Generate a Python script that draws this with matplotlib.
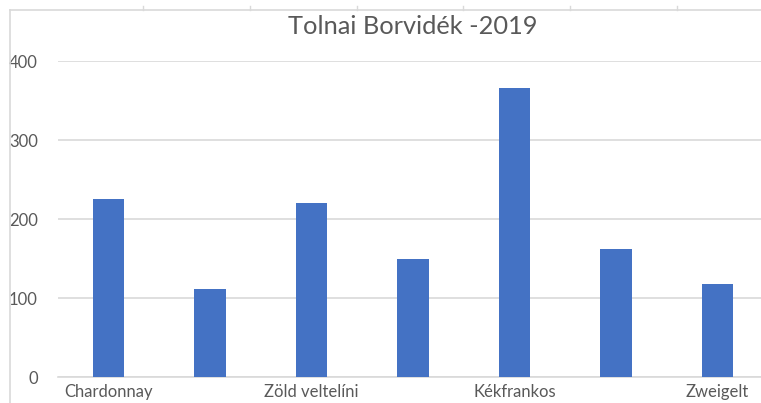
import matplotlib.pyplot as plt
from matplotlib.lines import Line2D

plt.rcParams['font.family'] = ['Lato', 'DejaVu Sans']

# data (labels skipped by Excel are left blank)
categories = ['Chardonnay', '', 'Zöld veltelíni', '', 'Kékfrankos', '', 'Zweigelt']
values = [226, 112, 221, 150, 366, 162, 118]
yticks = [0, 100, 200, 300, 400]

W, H = 761, 403
fig = plt.figure(figsize=(W / 100, H / 100), dpi=100)

# axes spans one category wider than what's visible, right side gets cut off
left, right = 58, 768
bottom, top = 377.3, 61
ax = fig.add_axes([left / W, (H - bottom) / H, (right - left) / W, (bottom - top) / H])
ax.set_clip_on(False)

x = list(range(len(values)))
ax.bar(x, values, width=0.31, color='#4472C4', zorder=3)
ax.set_xlim(-0.5, len(values) - 0.5)
ax.set_ylim(0, 400)
ax.set_yticks(yticks)
ax.set_xticks(x)
ax.set_xticklabels(categories)
ax.grid(axis='y', color='#d9d9d9', linewidth=1.2, zorder=0)
for s in ['top', 'right', 'left']:
    ax.spines[s].set_visible(False)
ax.spines['bottom'].set_color('#d9d9d9')
ax.spines['bottom'].set_linewidth(1.2)
ax.tick_params(length=0, colors='#595959', labelsize=12)
ax.tick_params(axis='y', pad=14.5)
ax.tick_params(axis='x', pad=5)

fig.text(413 / W, 1 - 26 / H, 'Tolnai Borvidék -2019', ha='center', va='center',
         fontsize=18.3, color='#595959')

# chart frame (left and top border of the screenshot)
fig.add_artist(Line2D([10 / W, 10 / W], [0, 1 - 10 / H], color='#d9d9d9', lw=1.2))
fig.add_artist(Line2D([10 / W, 1], [1 - 10 / H, 1 - 10 / H], color='#d9d9d9', lw=1.2))
for tx in [143, 250, 357, 463, 570, 677]:
    fig.add_artist(Line2D([tx / W, tx / W], [1 - 6 / H, 1 - 10 / H], color='#d9d9d9', lw=1))

fig.savefig('out.png', dpi=100)
